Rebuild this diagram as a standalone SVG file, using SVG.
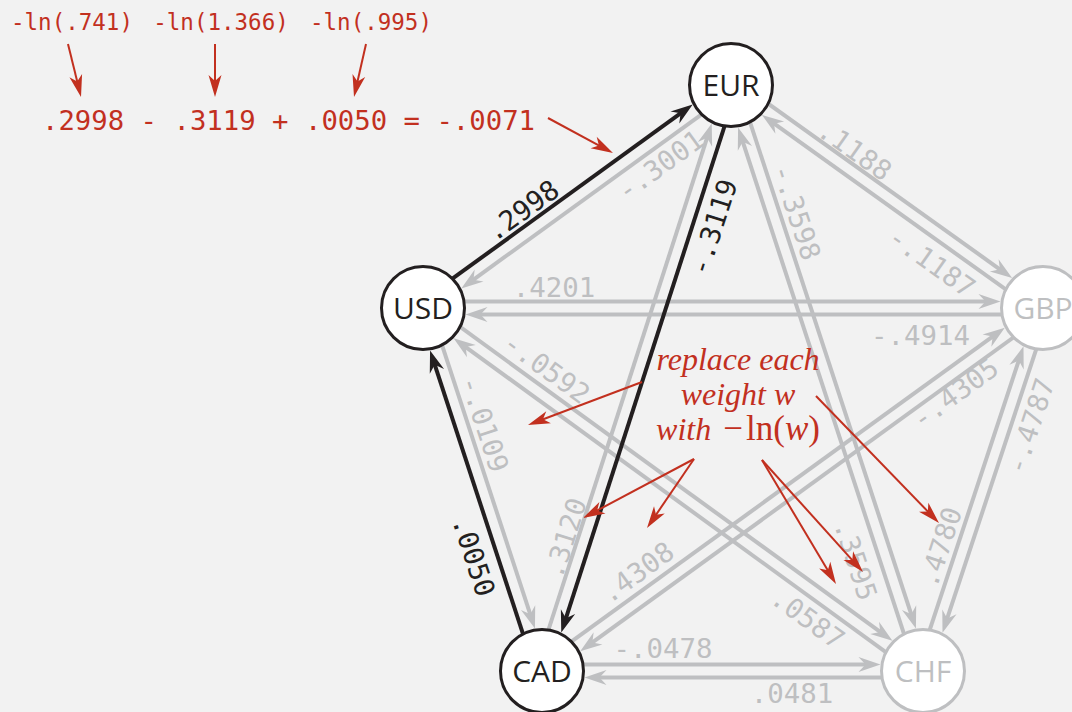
<svg xmlns="http://www.w3.org/2000/svg" width="1072" height="712" viewBox="0 0 1072 712">
<defs>
<style>
.eg{stroke:#bebfc1;stroke-width:4;fill:none;marker-end:url(#ag)}
.eb{stroke:#231f20;stroke-width:4;fill:none;marker-end:url(#ab)}
.ra{stroke:#c2301f;stroke-width:2;fill:none;marker-end:url(#ar)}
.node circle{fill:#ffffff;stroke:#231f20;stroke-width:3}
.node.dim circle{stroke:#bebfc1}
.nt{font-family:"Open Sans","Liberation Sans",sans-serif;font-size:30px;text-anchor:middle;fill:#231f20}
.dim .nt{fill:#bebfc1}
.lbl{font-family:"DejaVu Sans Mono","Liberation Mono",monospace;font-size:27.4px;text-anchor:middle}
.lg{fill:#bebfc1}
.lb{fill:#231f20}
.rm{font-family:"DejaVu Sans Mono","Liberation Mono",monospace;fill:#c2301f}
.ri{font-family:"Liberation Serif",serif;font-size:32px;font-style:italic;fill:#c2301f;text-anchor:middle}
.up{font-style:normal;font-size:35px}
.iw{font-size:35px}
</style>
<marker id="ag" markerUnits="userSpaceOnUse" viewBox="0 -8 24 16" markerWidth="24" markerHeight="16" refX="12" refY="0" orient="auto" overflow="visible"><path d="M0,-7.5 L22,0 L0,7.5 L7,0 Z" fill="#bebfc1"/></marker>
<marker id="ab" markerUnits="userSpaceOnUse" viewBox="0 -8 24 16" markerWidth="24" markerHeight="16" refX="12" refY="0" orient="auto" overflow="visible"><path d="M0,-7.5 L22,0 L0,7.5 L7,0 Z" fill="#231f20"/></marker>
<marker id="ar" markerUnits="userSpaceOnUse" viewBox="0 -8 24 16" markerWidth="24" markerHeight="16" refX="10" refY="0" orient="auto" overflow="visible"><path d="M0,-6.5 L22,0 L0,6.5 L6,0 Z" fill="#c2301f"/></marker>
</defs>
<rect width="1072" height="712" fill="#f2f2f2"/>

<g id="connectors">
<line class="eg" x1="734.8" y1="90.27" x2="469.39" y2="282.57"/>
<line class="eg" x1="535.82" y1="669" x2="708.67" y2="132.96"/>
<line class="eg" x1="429.18" y1="305.98" x2="531.83" y2="619.09"/>
<line class="eg" x1="423" y1="301.5" x2="990.5" y2="301.5"/>
<line class="eg" x1="1043" y1="314.5" x2="475.5" y2="314.5"/>
<line class="eg" x1="734.77" y1="79.7" x2="1003.99" y2="272.26"/>
<line class="eg" x1="1039.23" y1="313.3" x2="770.01" y2="120.74"/>
<line class="eg" x1="737.18" y1="82.97" x2="912.81" y2="619.09"/>
<line class="eg" x1="916.82" y1="673.03" x2="741.19" y2="136.91"/>
<line class="eg" x1="426.82" y1="302.74" x2="884.34" y2="634.9"/>
<line class="eg" x1="919.18" y1="676.26" x2="461.66" y2="344.1"/>
<line class="eg" x1="1046.81" y1="313.26" x2="588.32" y2="645.46"/>
<line class="eg" x1="538.19" y1="665.74" x2="996.68" y2="333.54"/>
<line class="eg" x1="1049.17" y1="310.04" x2="945.65" y2="623.19"/>
<line class="eg" x1="916.83" y1="668.96" x2="1020.35" y2="355.81"/>
<line class="eg" x1="542" y1="664.5" x2="870.5" y2="664.5"/>
<line class="eg" x1="923" y1="677.5" x2="594.5" y2="677.5"/>
<line class="eb" x1="419.2" y1="302.73" x2="684.61" y2="110.43"/>
<line class="eb" x1="737.19" y1="87" x2="564.33" y2="623.04"/>
<line class="eb" x1="535.82" y1="673.02" x2="433.17" y2="359.91"/>
</g>

<g id="edge-labels">
<text class="lbl lb" transform="translate(522,210) rotate(-35.8)" y="10">.2998</text>
<text class="lbl lg" transform="translate(660,165) rotate(-35.8)" y="10">-.3001</text>
<text class="lbl lb" transform="translate(713,227) rotate(-72.1)" y="10">-.3119</text>
<text class="lbl lg" transform="translate(565,538) rotate(-72.1)" y="10">.3120</text>
<text class="lbl lb" transform="translate(474,556) rotate(71.85)" y="10">.0050</text>
<text class="lbl lg" transform="translate(485,424) rotate(71.85)" y="10">-.0109</text>
<text class="lbl lg" x="554" y="297">.4201</text>
<text class="lbl lg" x="920.5" y="345">-.4914</text>
<text class="lbl lg" transform="translate(855,150) rotate(35.4)" y="10">.1188</text>
<text class="lbl lg" transform="translate(932,262) rotate(35.4)" y="10">-.1187</text>
<text class="lbl lg" transform="translate(797,212) rotate(71.8)" y="10">-.3598</text>
<text class="lbl lg" transform="translate(856,560) rotate(71.8)" y="10">.3595</text>
<text class="lbl lg" transform="translate(547,368) rotate(36)" y="10">-.0592</text>
<text class="lbl lg" transform="translate(808,618) rotate(36)" y="10">.0587</text>
<text class="lbl lg" transform="translate(955,393) rotate(-36)" y="10">-.4305</text>
<text class="lbl lg" transform="translate(637,572) rotate(-36)" y="10">.4308</text>
<text class="lbl lg" transform="translate(1030,426) rotate(-71.7)" y="10">-.4787</text>
<text class="lbl lg" transform="translate(940,547) rotate(-71.7)" y="10">.4780</text>
<text class="lbl lg" x="663" y="658">-.0478</text>
<text class="lbl lg" x="792" y="703">.0481</text>
</g>

<g id="annotations">
<text class="rm" x="72" y="30" font-size="22.5" text-anchor="middle">-ln(.741)</text>
<text class="rm" x="221" y="30" font-size="22.5" text-anchor="middle">-ln(1.366)</text>
<text class="rm" x="371" y="30" font-size="22.5" text-anchor="middle">-ln(.995)</text>
<text class="rm" x="42" y="129.5" font-size="27.3" xml:space="preserve">.2998 - .3119 + .0050 = -.0071</text>
<line class="ra" x1="68" y1="44" x2="78.14" y2="85.35"/>
<line class="ra" x1="215" y1="44" x2="215" y2="85"/>
<line class="ra" x1="366" y1="44" x2="356.65" y2="85.3"/>
<line class="ra" x1="548" y1="118" x2="602.43" y2="147.31"/>
<text class="ri" x="738" y="370">replace each</text>
<text class="ri" x="738" y="405">weight w</text>
<text class="ri" x="738" y="440">with<tspan class="up" dx="12">−</tspan><tspan class="up" dx="3">ln(</tspan><tspan class="iw">w</tspan><tspan class="up">)</tspan></text>
<line class="ra" x1="642" y1="382" x2="539.23" y2="420.77"/>
<line class="ra" x1="694" y1="459" x2="593.6" y2="512.37"/>
<line class="ra" x1="694" y1="459" x2="653.76" y2="518.08"/>
<line class="ra" x1="762" y1="460" x2="829.85" y2="573.7"/>
<line class="ra" x1="762" y1="460" x2="854.96" y2="563.09"/>
<line class="ra" x1="816" y1="396" x2="930.65" y2="514.38"/>
</g>

<g id="node-EUR" class="node"><circle cx="731" cy="85" r="41.5"/><text class="nt" x="731" y="96">EUR</text></g>
<g id="node-USD" class="node"><circle cx="423" cy="308" r="41.5"/><text class="nt" x="423" y="319">USD</text></g>
<g id="node-GBP" class="node dim"><circle cx="1043" cy="308" r="41.5"/><text class="nt" x="1043" y="319">GBP</text></g>
<g id="node-CAD" class="node"><circle cx="542" cy="671" r="41.5"/><text class="nt" x="542" y="682">CAD</text></g>
<g id="node-CHF" class="node dim"><circle cx="923" cy="671" r="41.5"/><text class="nt" x="923" y="682">CHF</text></g>
</svg>
